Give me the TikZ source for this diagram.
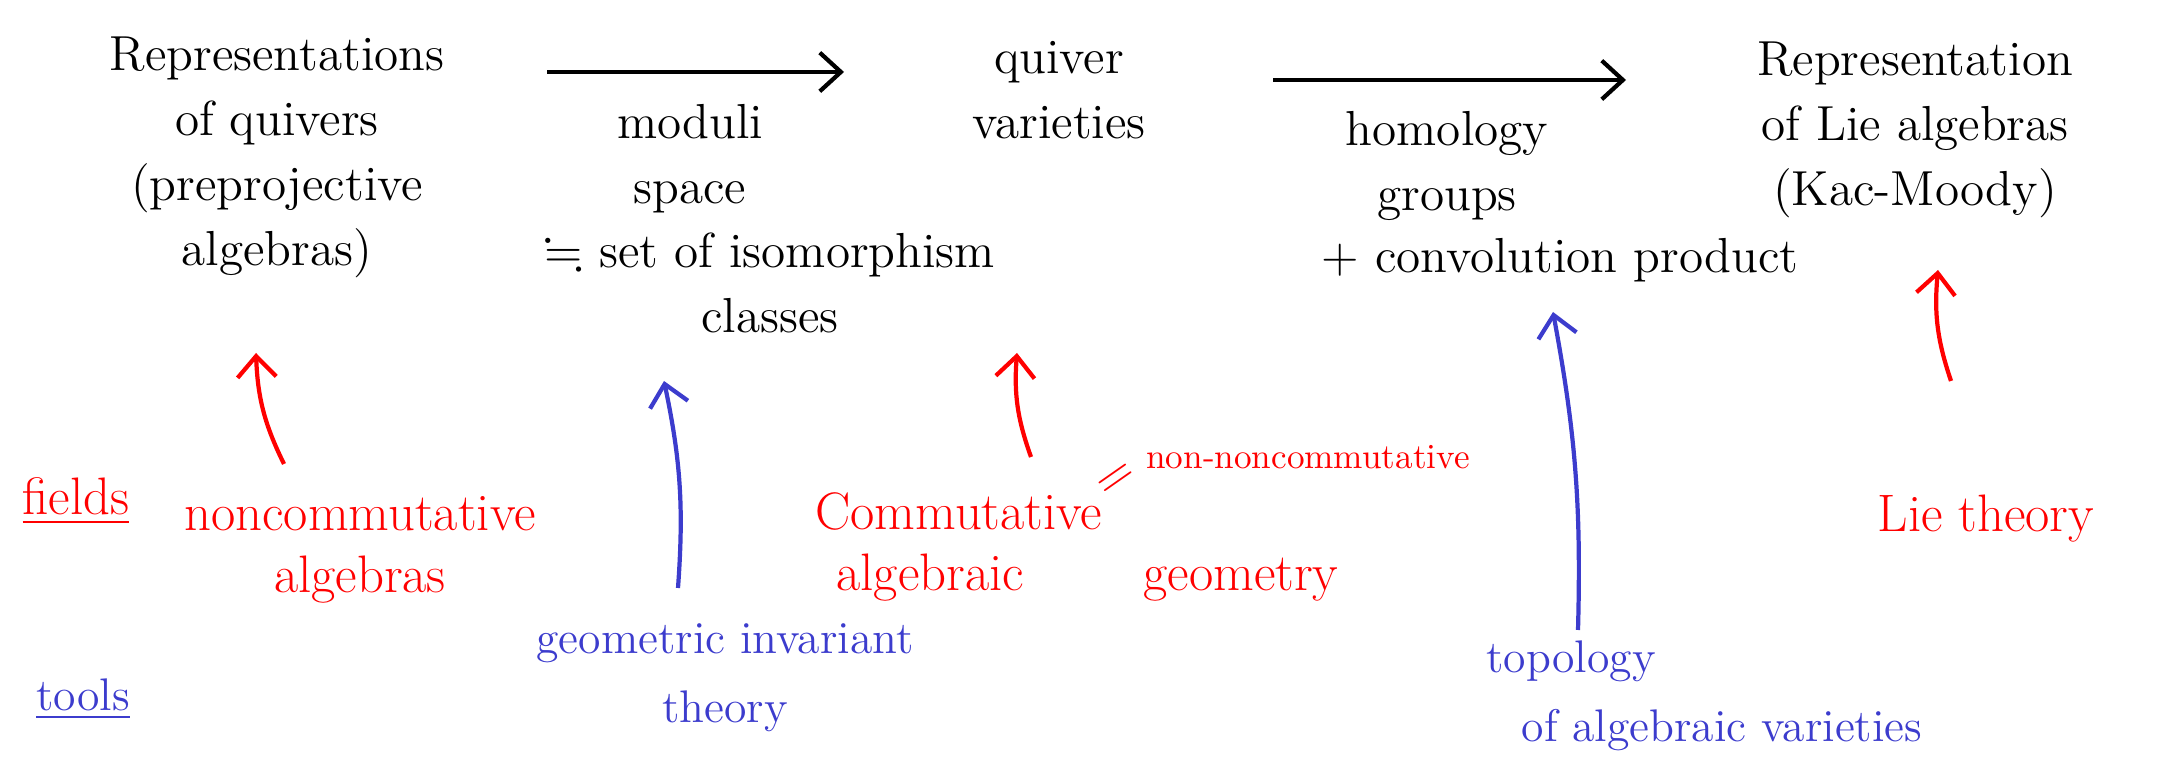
\documentclass[tikz,border=0pt]{standalone}
\usepackage{amssymb}
\usetikzlibrary{arrows.meta}
\definecolor{penred}{RGB}{255,0,0}
\definecolor{penblue}{RGB}{60,60,205}
\tikzset{
	ink/.style={line width=1.2pt,-{Straight Barb[length=6pt,width=11pt]}},
	blk/.style={font=\fontsize{14}{18.5}\selectfont,align=center},
	redtxt/.style={text=penred,font=\fontsize{15}{17.6}\selectfont,align=center},
	bluetxt/.style={text=penblue,font=\fontsize{13}{19.6}\selectfont,align=center},
}
\begin{document}
\begin{tikzpicture}[x=0.01cm,y=-0.01cm]
		\useasboundingbox (0,0) rectangle (2170,765);
		\node[blk] (reps) at (277,157) {Representations\\of quivers\\(preprojective\\algebras)};
		\node[blk] (quiver) at (1059,90) {quiver\\varieties};
		\node[blk] (lie) at (1915,130) {Representation\\of Lie algebras\\(Kac-Moody)};
		\node[blk] (moduli) at (690,159) {moduli\\space};
		\node[blk] (isoclass) at (770,283) {$\fallingdotseq$ set of isomorphism\\classes};
		\node[blk] (homology) at (1447,166) {homology\\groups};
		\node[blk] (conv) at (1560,260) {+ convolution product};
		\coordinate (a1s) at (547,72);
		\coordinate (a1e) at (844,72);
		\coordinate (a2s) at (1273,80);
		\coordinate (a2e) at (1626,80);
		\draw[ink] (a1s) -- (a1e);
		\draw[ink] (a2s) -- (a2e);
		\node[redtxt] (fields) at (76,501) {\underline{fields}};
		\node[redtxt] (noncomm) at (360,550) {noncommutative\\algebras};
		\node[redtxt,align=left,anchor=west] (comm) at (803,547) {Commutative\\\hspace{6pt}algebraic\hspace{34pt}geometry};
		\node[text=penred,font=\fontsize{15}{15}\selectfont,rotate=35] (eqsign) at (1118,481) {=};
		\node[text=penred,font=\fontsize{10}{12}\selectfont] (nonnon) at (1308,457) {non-noncommutative};
		\node[redtxt] (lietheory) at (1986,519) {Lie theory};
		\coordinate (r1s) at (284,464);
		\coordinate (r1e) at (256,353);
		\coordinate (r2s) at (1031,457);
		\coordinate (r2e) at (1017,353);
		\coordinate (r3s) at (1951,381);
		\coordinate (r3e) at (1938,270);
		\draw[ink,penred] (r1s) to[bend left=12] (r1e);
		\draw[ink,penred] (r2s) to[bend left=12] (r2e);
		\draw[ink,penred] (r3s) to[bend left=12] (r3e);
		\node[bluetxt] (tools) at (83,699) {\underline{tools}};
		\node[bluetxt] (git) at (725,678) {geometric invariant\\theory};
		\node[bluetxt,align=left,anchor=west] (topo) at (1474,696) {topology\\\hspace{10pt}of algebraic varieties};
		\coordinate (b1s) at (678,588);
		\coordinate (b1e) at (664,381);
		\coordinate (b2s) at (1578,630);
		\coordinate (b2e) at (1553,312);
		\draw[ink,penblue] (b1s) to[bend right=8] (b1e);
		\draw[ink,penblue] (b2s) to[bend right=6] (b2e);
	\end{tikzpicture}
\end{document}
